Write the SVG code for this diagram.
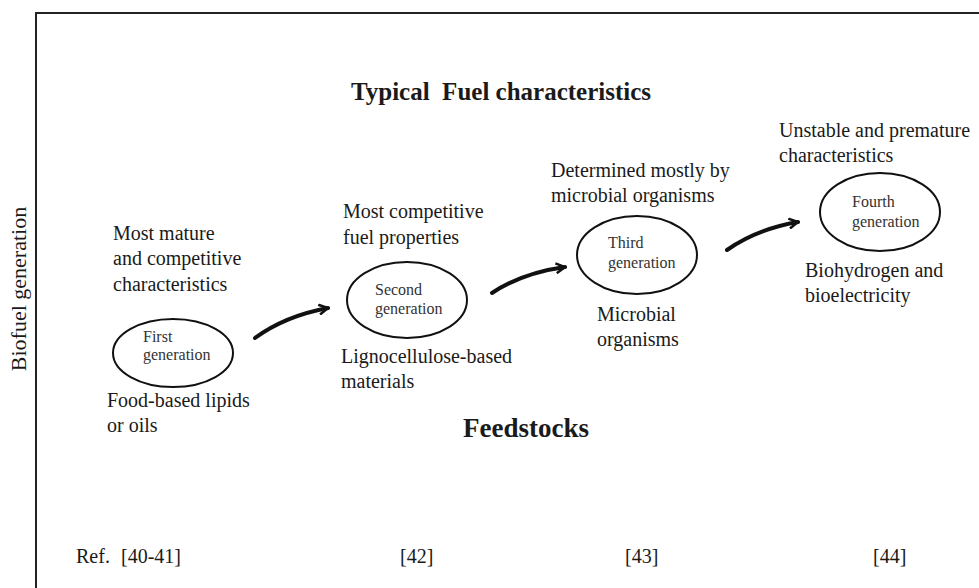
<svg xmlns="http://www.w3.org/2000/svg" width="979" height="588" viewBox="0 0 979 588">
<defs>
<style>
.t{font-family:"Liberation Serif","Times New Roman",serif;fill:#1a1a1a}
.lbl{font-size:20px}
.head{font-size:25px;font-weight:bold}
.node{font-size:16px;fill:#333}
.ref{font-size:20px}
.side{font-size:22px}
.ell{fill:#fff;stroke:#111;stroke-width:2}
.arr{fill:none;stroke:#111;stroke-width:4;stroke-linecap:round}
</style>
<marker id="ah" viewBox="0 0 12 12" refX="10" refY="6" markerWidth="12" markerHeight="12" markerUnits="userSpaceOnUse" orient="auto">
<path d="M1,1 L10,6 L1,11" fill="none" stroke="#111" stroke-width="2.5" stroke-linejoin="miter"/>
</marker>
</defs>
<rect width="979" height="588" fill="#fff"/>
<g id="frame">
<path d="M36,588 V13 H979" fill="none" stroke="#222" stroke-width="2"/>
</g>
<text class="t side" transform="translate(26,289) rotate(-90)" text-anchor="middle">Biofuel generation</text>
<text class="t head" x="501" y="100" text-anchor="middle" xml:space="preserve">Typical  Fuel characteristics</text>
<text class="t head" x="526" y="437" text-anchor="middle" style="font-size:27px">Feedstocks</text>

<g id="connectors">
<path class="arr" d="M255,338 Q285,316 328,308" marker-end="url(#ah)"/>
<path class="arr" d="M492,293 Q522,273 565,267" marker-end="url(#ah)"/>
<path class="arr" d="M727,250 Q757,229 798,222" marker-end="url(#ah)"/>
</g>

<g id="gen1">
<ellipse class="ell" cx="173" cy="353" rx="60" ry="34"/>
<text class="t node" x="143" y="342">First</text>
<text class="t node" x="143" y="360">generation</text>
<text class="t lbl" x="113" y="240">Most mature</text>
<text class="t lbl" x="113" y="265">and competitive</text>
<text class="t lbl" x="113" y="291">characteristics</text>
<text class="t lbl" x="107" y="407">Food-based lipids</text>
<text class="t lbl" x="107" y="432">or oils</text>
</g>

<g id="gen2">
<ellipse class="ell" cx="407" cy="300" rx="60" ry="38"/>
<text class="t node" x="375" y="295">Second</text>
<text class="t node" x="375" y="314">generation</text>
<text class="t lbl" x="343" y="218">Most competitive</text>
<text class="t lbl" x="343" y="244">fuel properties</text>
<text class="t lbl" x="341" y="363">Lignocellulose-based</text>
<text class="t lbl" x="341" y="388">materials</text>
</g>

<g id="gen3">
<ellipse class="ell" cx="637" cy="255" rx="60" ry="39"/>
<text class="t node" x="608" y="248">Third</text>
<text class="t node" x="608" y="268">generation</text>
<text class="t lbl" x="551" y="177">Determined mostly by</text>
<text class="t lbl" x="551" y="202">microbial organisms</text>
<text class="t lbl" x="597" y="321">Microbial</text>
<text class="t lbl" x="597" y="346">organisms</text>
</g>

<g id="gen4">
<ellipse class="ell" cx="880" cy="212" rx="60" ry="39"/>
<text class="t node" x="852" y="207">Fourth</text>
<text class="t node" x="852" y="227">generation</text>
<text class="t lbl" x="779" y="137">Unstable and premature</text>
<text class="t lbl" x="779" y="162">characteristics</text>
<text class="t lbl" x="805" y="277">Biohydrogen and</text>
<text class="t lbl" x="805" y="302">bioelectricity</text>
</g>

<g id="refs">
<text class="t ref" x="76" y="563">Ref.</text>
<text class="t ref" x="121" y="563">[40-41]</text>
<text class="t ref" x="400" y="563">[42]</text>
<text class="t ref" x="625" y="563">[43]</text>
<text class="t ref" x="873" y="563">[44]</text>
</g>
</svg>
